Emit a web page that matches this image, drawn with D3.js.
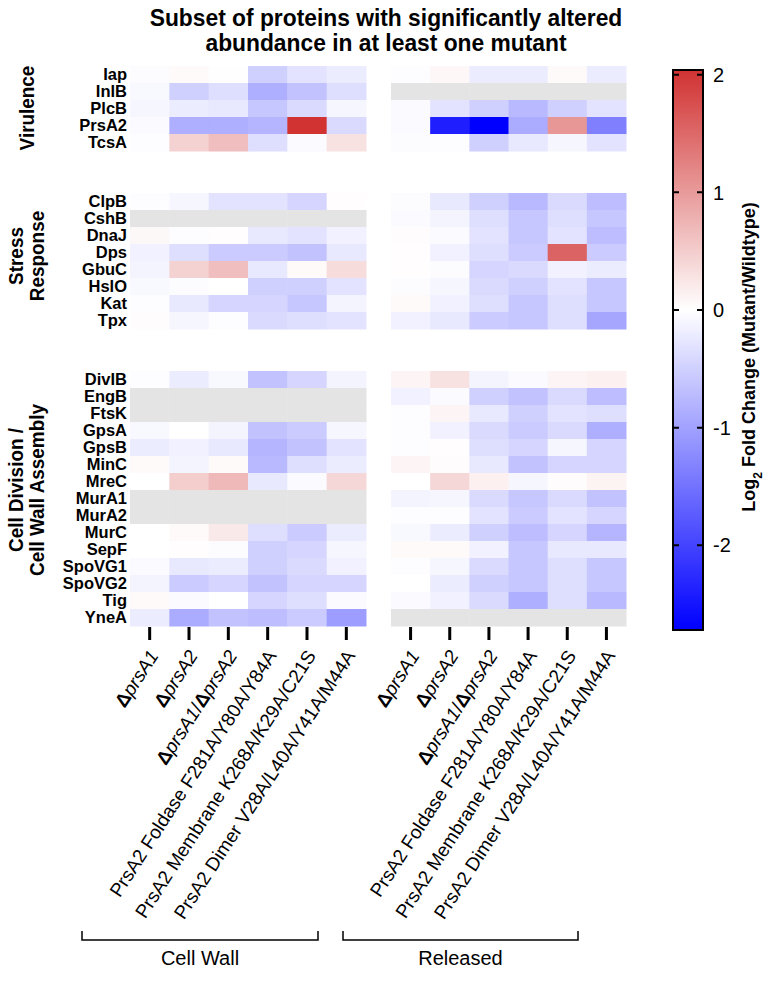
<!DOCTYPE html>
<html>
<head>
<meta charset="utf-8">
<script src="https://cdn.jsdelivr.net/npm/d3@7"></script>
<style>
  body { margin: 0; background: #fff; }
  svg { font-family: "Liberation Sans", Arial, sans-serif; }
</style>
</head>
<body>
<div id="chart"></div>
<script>
// mutants (columns), same for both fractions
var mutants = ["ΔprsA1", "ΔprsA2", "ΔprsA1/ΔprsA2",
    "PrsA2 Foldase F281A/Y80A/Y84A",
    "PrsA2 Membrane K268A/K29A/C21S",
    "PrsA2 Dimer V28A/L40A/Y41A/M44A"];
var fractions = ["Cell Wall", "Released"];

var groupNames = [["Virulence"], ["Stress", "Response"], ["Cell Division /", "Cell Wall Assembly"]];
var virulenceProteins = ["Iap", "InlB", "PlcB", "PrsA2", "TcsA"];
var stressProteins = ["ClpB", "CshB", "DnaJ", "Dps", "GbuC", "HslO", "Kat", "Tpx"];
var cellDivProteins = ["DivIB", "EngB", "FtsK", "GpsA", "GpsB", "MinC", "MreC", "MurA1", "MurA2",
    "MurC", "SepF", "SpoVG1", "SpoVG2", "Tig", "YneA"];

// log2 fold change, null = not detected (grey)
var virulenceCellWall = [
    [-0.03, 0.05, 0.01, -0.5, -0.3, -0.2],
    [-0.08, -0.5, -0.35, -0.85, -0.65, -0.35],
    [-0.1, -0.2, -0.25, -0.6, -0.4, -0.1],
    [-0.05, -0.85, -0.85, -0.8, 2.04, -0.4],
    [-0.02, 0.45, 0.65, -0.35, -0.05, 0.3]
];
var virulenceReleased = [
    [-0.02, 0.08, -0.2, -0.2, 0.05, -0.2],
    [null, null, null, null, null, null],
    [-0.05, -0.3, -0.5, -0.75, -0.5, -0.3],
    [-0.05, -2.4, -2.72, -0.9, 1.03, -1.36],
    [-0.03, -0.02, -0.5, -0.25, -0.1, -0.3]
];
var stressCellWall = [
    [-0.02, -0.1, -0.3, -0.3, -0.45, 0.02],
    [null, null, null, null, null, null],
    [0.07, -0.02, 0.02, -0.25, -0.3, -0.15],
    [-0.15, -0.35, -0.55, -0.55, -0.65, -0.25],
    [-0.12, 0.45, 0.65, -0.25, 0.05, 0.35],
    [-0.08, -0.03, 0.0, -0.5, -0.5, -0.3],
    [-0.02, -0.25, -0.45, -0.45, -0.6, -0.12],
    [0.03, -0.1, -0.02, -0.4, -0.35, -0.3]
];
var stressReleased = [
    [-0.03, -0.25, -0.5, -0.75, -0.4, -0.7],
    [-0.05, -0.12, -0.35, -0.6, -0.35, -0.6],
    [0.03, -0.05, -0.3, -0.6, -0.3, -0.7],
    [0.02, -0.15, -0.35, -0.55, 1.55, -0.55],
    [0.02, -0.03, -0.45, -0.4, -0.15, -0.2],
    [-0.03, -0.1, -0.4, -0.5, -0.3, -0.6],
    [0.05, -0.15, -0.35, -0.6, -0.35, -0.6],
    [-0.15, -0.25, -0.55, -0.6, -0.35, -0.95]
];
var cellDivCellWall = [
    [-0.02, -0.2, -0.08, -0.65, -0.45, -0.12],
    [null, null, null, null, null, null],
    [null, null, null, null, null, null],
    [-0.08, 0.0, -0.12, -0.65, -0.55, -0.1],
    [-0.2, -0.15, -0.25, -0.8, -0.65, -0.3],
    [0.05, -0.12, 0.05, -0.75, -0.35, -0.2],
    [0.0, 0.5, 0.7, -0.25, -0.05, 0.4],
    [null, null, null, null, null, null],
    [null, null, null, null, null, null],
    [0.0, 0.05, 0.22, -0.35, -0.55, -0.2],
    [0.0, 0.02, -0.03, -0.5, -0.45, -0.1],
    [-0.05, -0.25, -0.2, -0.5, -0.4, -0.15],
    [-0.12, -0.55, -0.45, -0.65, -0.45, -0.45],
    [0.05, -0.05, 0.0, -0.45, -0.35, -0.05],
    [-0.2, -0.9, -0.65, -0.7, -0.55, -1.05]
];
var cellDivReleased = [
    [0.1, 0.3, -0.12, -0.05, 0.1, 0.15],
    [-0.15, -0.05, -0.5, -0.65, -0.4, -0.7],
    [-0.02, 0.1, -0.25, -0.5, -0.3, -0.35],
    [-0.02, -0.15, -0.4, -0.55, -0.4, -0.85],
    [-0.02, 0.02, -0.35, -0.45, -0.1, -0.45],
    [0.1, 0.03, -0.25, -0.65, -0.45, -0.45],
    [0.0, 0.4, 0.15, -0.1, 0.03, 0.12],
    [-0.12, -0.1, -0.4, -0.6, -0.4, -0.65],
    [-0.02, -0.02, -0.3, -0.55, -0.3, -0.45],
    [-0.08, -0.2, -0.5, -0.7, -0.45, -0.8],
    [0.05, 0.05, -0.15, -0.6, -0.25, -0.25],
    [-0.02, -0.1, -0.4, -0.6, -0.35, -0.6],
    [0.0, -0.2, -0.5, -0.6, -0.35, -0.6],
    [-0.05, -0.15, -0.4, -0.85, -0.35, -0.75],
    [null, null, null, null, null, null]
];
var legendTicks = [-2, -1, 0, 1, 2];

var w = 768, h = 986;
var rowH = 17, gapH = 42, top0 = 66;

var svg = d3.select("#chart").append("svg")
    .attr("width", w)
    .attr("height", h);

// squeeze bold text a bit, the original font is narrower than Arial
function condense(sel, k) {
    sel.each(function () {
        var len = this.getComputedTextLength();
        d3.select(this).attr("textLength", len * k).attr("lengthAdjust", "spacingAndGlyphs");
    });
}

var colorScale = d3.scaleLinear()
    .domain([-2.72, 0, 2.04])
    .range(["#0000ff", "#ffffff", "#d13232"]);

var xCellWall = d3.scaleBand().domain(mutants).range([130, 366]);
var xReleased = d3.scaleBand().domain(mutants).range([391, 626]);
var xScales = [xCellWall, xReleased];

var groups = [
    {names: groupNames[0], proteins: virulenceProteins, data: [virulenceCellWall, virulenceReleased], cy: 108},
    {names: groupNames[1], proteins: stressProteins, data: [stressCellWall, stressReleased], cy: 256},
    {names: groupNames[2], proteins: cellDivProteins, data: [cellDivCellWall, cellDivReleased], cy: 490}
];

/* title */
svg.append("g").selectAll("text")
    .data(["Subset of proteins with significantly altered", "abundance in at least one mutant"])
    .enter().append("text")
    .attr("x", 386)
    .attr("y", function (d, i) { return 26 + i * 25; })
    .attr("text-anchor", "middle")
    .style("font-size", "24px").style("font-weight", "bold")
    .text(function (d) { return d; })
    .call(condense, 0.95);

/* heatmap blocks */
var yPos = top0;
groups.forEach(function (g, gi) {
    var yScale = d3.scaleBand()
        .domain(g.proteins)
        .range([yPos, yPos + g.proteins.length * rowH]);

    xScales.forEach(function (xs, fi) {
        var cells = [];
        g.data[fi].forEach(function (row, ri) {
            row.forEach(function (v, ci) {
                cells.push({p: g.proteins[ri], m: mutants[ci], v: v});
            });
        });
        svg.append("g").selectAll("rect")
            .data(cells)
            .enter().append("rect")
            .attr("x", function (d) { return xs(d.m); })
            .attr("y", function (d) { return yScale(d.p); })
            .attr("width", xs.bandwidth() + 0.5)
            .attr("height", yScale.bandwidth() + 0.5)
            .attr("fill", function (d) { return d.v === null ? "#e4e4e4" : colorScale(d.v); });
    });

    // protein names
    svg.append("g").selectAll("text")
        .data(g.proteins)
        .enter().append("text")
        .attr("x", 127)
        .attr("y", function (d) { return yScale(d) + yScale.bandwidth() / 2; })
        .attr("dy", "0.36em")
        .attr("text-anchor", "end")
        .style("font-size", "16.5px").style("font-weight", "bold")
        .text(function (d) { return d; });

    // group label
    var lineX = g.names.length === 1 ? [34] : [23, 44];
    svg.append("g").selectAll("text")
        .data(g.names)
        .enter().append("text")
        .attr("transform", function (d, i) { return "translate(" + lineX[i] + "," + g.cy + ") rotate(-90)"; })
        .attr("text-anchor", "middle")
        .style("font-size", "21px").style("font-weight", "bold")
        .text(function (d) { return d; })
        .call(condense, 0.9);

    yPos += g.proteins.length * rowH + gapH;
});

var heatBottom = yPos - gapH;

/* x axis ticks and labels */
xScales.forEach(function (xs, fi) {
    var ax = svg.append("g");
    ax.selectAll("line")
        .data(mutants)
        .enter().append("line")
        .attr("x1", function (d) { return xs(d) + xs.bandwidth() / 2; })
        .attr("x2", function (d) { return xs(d) + xs.bandwidth() / 2; })
        .attr("y1", heatBottom + 1)
        .attr("y2", heatBottom + 14)
        .attr("stroke", "black")
        .attr("stroke-width", 3);

    var labels = ax.selectAll("text")
        .data(mutants)
        .enter().append("text")
        .attr("transform", function (d) {
            return "translate(" + (xs(d) + xs.bandwidth() / 2 + 4) + "," + (heatBottom + 26) + ") rotate(-57)";
        })
        .attr("text-anchor", "end")
        .attr("dy", "0.35em")
        .style("font-size", "19px");

    labels.each(function (d) {
        var t = d3.select(this);
        d.split(/(Δ|prsA\d)/).forEach(function (part) {
            if (part === "") return;
            var ts = t.append("tspan").text(part);
            if (part === "Δ") ts.style("font-weight", "bold");
            else if (/^prsA/.test(part)) ts.style("font-style", "italic");
        });
    });

    // bracket
    var bx0 = xs.range()[0] - 48, bx1 = xs.range()[1] - 48, by = 940;
    ax.append("path")
        .attr("d", "M" + bx0 + "," + (by - 9) + "V" + by + "H" + bx1 + "V" + (by - 9))
        .attr("fill", "none")
        .attr("stroke", "black")
        .attr("stroke-width", 1.5);
    ax.append("text")
        .attr("x", (bx0 + bx1) / 2)
        .attr("y", 965)
        .attr("text-anchor", "middle")
        .style("font-size", "20px")
        .text(fractions[fi]);
});

/* color legend */
var legX = 673, legW = 30;
var legScale = d3.scaleLinear().domain([-2.72, 2.04]).range([630, 70]);

var grad = svg.append("defs").append("linearGradient")
    .attr("id", "legGrad")
    .attr("x1", 0).attr("y1", 1).attr("x2", 0).attr("y2", 0);
grad.selectAll("stop")
    .data(colorScale.domain())
    .enter().append("stop")
    .attr("offset", function (d) { return (d - (-2.72)) / (2.04 + 2.72); })
    .attr("stop-color", function (d) { return colorScale(d); });

svg.append("rect")
    .attr("x", legX).attr("y", legScale(2.04))
    .attr("width", legW).attr("height", legScale(-2.72) - legScale(2.04))
    .attr("fill", "url(#legGrad)")
    .attr("stroke", "black")
    .attr("stroke-width", 2);

var legAxis = svg.append("g");
legAxis.selectAll("path")
    .data(legendTicks)
    .enter().append("path")
    .attr("d", function (d) {
        var y = legScale(d);
        return "M" + legX + "," + y + "h6M" + (legX + legW) + "," + y + "h-6";
    })
    .attr("stroke", "black")
    .attr("stroke-width", 2);
legAxis.selectAll("text")
    .data(legendTicks)
    .enter().append("text")
    .attr("x", legX + legW + 10)
    .attr("y", function (d) { return legScale(d); })
    .attr("dy", "0.36em")
    .style("font-size", "20px")
    .text(function (d) { return d; });

var legTitle = svg.append("text")
    .attr("transform", "translate(755,357) rotate(-90)")
    .attr("text-anchor", "middle")
    .style("font-size", "18px").style("font-weight", "bold");
legTitle.append("tspan").text("Log");
legTitle.append("tspan").attr("baseline-shift", "sub").style("font-size", "12px").text("2");
legTitle.append("tspan").text(" Fold Change (Mutant/Wildtype)");
</script>
</body>
</html>
